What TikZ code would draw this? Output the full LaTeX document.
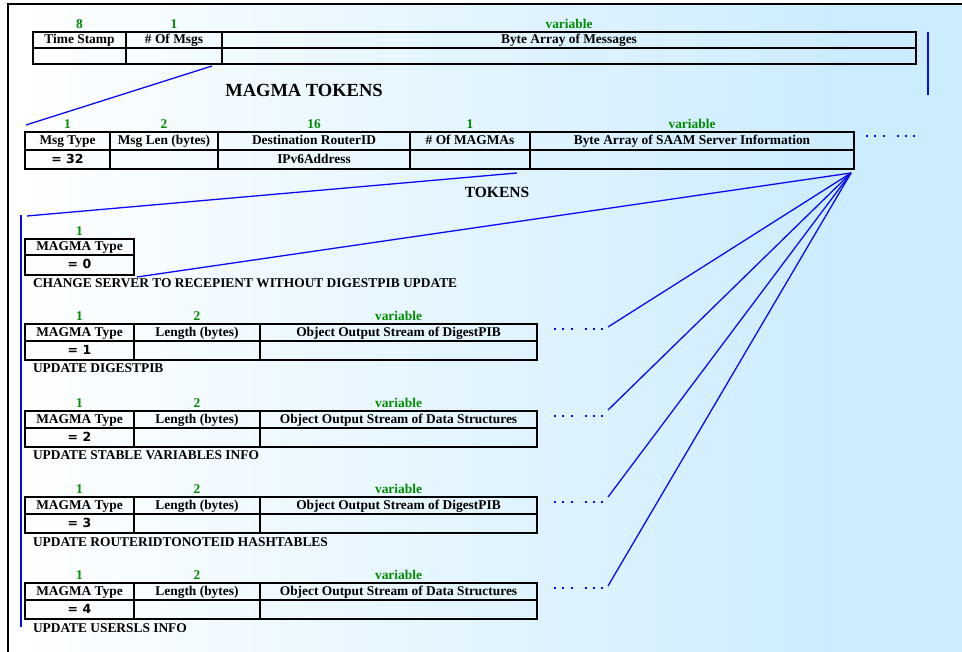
\documentclass[tikz,border=0pt]{standalone}
\usepackage{fontspec}
\setmainfont{Liberation Serif}
\newfontfamily\valfont{DejaVu Sans}
\usetikzlibrary{calc}
\definecolor{bgblue}{RGB}{204,236,255}
\definecolor{hdgreen}{RGB}{0,140,0}
\definecolor{wire}{RGB}{10,10,245}

\begin{document}
\begin{tikzpicture}[x=1pt,y=-1pt,
  every node/.style={inner sep=0pt, outer sep=0pt},
  cell/.style={draw=black, line width=1.2pt, anchor=north west,
    text height=10pt, text depth=2pt, font=\fontsize{13.4}{15}\selectfont\bfseries},
  val/.style={cell, font=\valfont\bfseries\fontsize{12.5}{14}\selectfont},
  size/.style={text=hdgreen, anchor=base, font=\fontsize{13.4}{15}\selectfont\bfseries},
  caption/.style={anchor=base west, font=\fontsize{13.4}{15}\selectfont\bfseries},
  title/.style={anchor=base, font=\fontsize{18.5}{20}\selectfont\bfseries},
  link/.style={draw=wire, line width=1.3pt},
  bar/.style={draw=wire, line width=2.4pt},
  more/.style={draw=wire, line width=2.1pt,
    dash pattern=on 2pt off 6.3pt on 2pt off 6.3pt on 2pt off 11.9pt}
]
\useasboundingbox (0,0) rectangle (962,652);

% page background and frame
\fill[white] (0,0) rectangle (962,652);
\shade[left color=white, right color=bgblue] (8,4) rectangle (850,652);
\fill[bgblue] (850,4) rectangle (962,652);
\draw[line width=2pt] (8,652) -- (8,4) -- (962,4);

% ---- message header ----
\node[cell, minimum width=93, minimum height=16] (ts) at (33,32) {Time Stamp};
\node[cell, minimum width=96, minimum height=16] (nmsg) at (126,32) {\# Of Msgs};
\node[cell, minimum width=694, minimum height=16] (bam) at (222,32) {Byte Array of Messages};
\node[cell, minimum width=93, minimum height=16] (tsv) at (33,48) {};
\node[cell, minimum width=96, minimum height=16] (nmsgv) at (126,48) {};
\node[cell, minimum width=694, minimum height=16] (bamv) at (222,48) {};
\node[size] (sts) at ($(ts.north)+(0,-3.5)$) {8};
\node[size] (snmsg) at ($(nmsg.north)+(0,-3.5)$) {1};
\node[size] (sbam) at ($(bam.north)+(0,-3.5)$) {variable};

\node[title] (magmatokens) at (304,96.5) {MAGMA TOKENS};

% ---- MAGMA token message ----
\node[cell, minimum width=85, minimum height=18] (mtype) at (25,132) {Msg Type};
\node[cell, minimum width=108, minimum height=18] (mlen) at (110,132) {Msg Len (bytes)};
\node[cell, minimum width=192, minimum height=18] (dest) at (218,132) {Destination RouterID};
\node[cell, minimum width=120, minimum height=18] (nmag) at (410,132) {\# Of MAGMAs};
\node[cell, minimum width=324, minimum height=18] (saam) at (530,132) {Byte Array of SAAM Server Information};
\node[val, minimum width=85, minimum height=19] (mtypev) at (25,150) {= 32};
\node[cell, minimum width=108, minimum height=19] (mlenv) at (110,150) {};
\node[cell, minimum width=192, minimum height=19] (ip) at (218,150) {IPv6Address};
\node[cell, minimum width=120, minimum height=19] (nmagv) at (410,150) {};
\node[cell, minimum width=324, minimum height=19] (saamv) at (530,150) {};
\node[size] (smtype) at ($(mtype.north)+(0,-3.5)$) {1};
\node[size] (smlen) at ($(mlen.north)+(0,-3.5)$) {2};
\node[size] (sdest) at ($(dest.north)+(0,-3.5)$) {16};
\node[size] (snmag) at ($(nmag.north)+(0,-3.5)$) {1};
\node[size] (ssaam) at ($(saam.north)+(0,-3.5)$) {variable};
\coordinate (m0) at (866,136);
\coordinate (m1) at (916,136);
\draw[more] (m0) -- (m1);

\node[title, font=\fontsize{15.5}{17}\selectfont\bfseries] (tokens) at (497,198) {TOKENS};

% ---- token 0 ----
\node[cell, minimum width=109, minimum height=16] (t0type) at (25,239) {MAGMA Type};
\node[val, minimum width=109, minimum height=20] (t0val) at (25,255) {= 0};
\node[size] (st0) at ($(t0type.north)+(0,-3.5)$) {1};
\node[caption] (c0) at (33,288) {CHANGE SERVER TO RECEPIENT WITHOUT DIGESTPIB UPDATE};

% ---- tokens 1 to 4 ----
\foreach \i/\t/\obj/\cap/\ey in {1/324/DigestPIB/UPDATE DIGESTPIB/327,
    2/411/Data Structures/UPDATE STABLE VARIABLES INFO/410,
    3/497/DigestPIB/UPDATE ROUTERIDTONOTEID HASHTABLES/497,
    4/583/Data Structures/UPDATE USERSLS INFO/586}{
  \node[cell, minimum width=109, minimum height=17] (t\i type) at (25,\t) {MAGMA Type};
  \node[cell, minimum width=126, minimum height=17] (t\i len) at (134,\t) {Length (bytes)};
  \node[cell, minimum width=277, minimum height=17] (t\i obj) at (260,\t) {Object Output Stream of \obj};
  \node[val, minimum width=109, minimum height=19] (t\i val) at (25,\t+17) {= \i};
  \node[cell, minimum width=126, minimum height=19] (t\i lenv) at (134,\t+17) {};
  \node[cell, minimum width=277, minimum height=19] (t\i objv) at (260,\t+17) {};
  \node[size] (s\i a) at ($(t\i type.north)+(0,-3.5)$) {1};
  \node[size] (s\i b) at ($(t\i len.north)+(0,-3.5)$) {2};
  \node[size] (s\i c) at ($(t\i obj.north)+(0,-3.5)$) {variable};
  \node[caption] (c\i) at (33,\t+49) {\cap};
  \coordinate (d\i) at (554,\t+5);
  \coordinate (e\i) at (603,\t+5);
  \draw[more] (d\i) -- (e\i);
  \coordinate (f\i) at (608,\ey);
}

% ---- expansion connectors ----
\coordinate (a1) at ($(nmsgv.south east)+(-10,2)$);
\coordinate (a2) at ($(mtype.north west)+(1,-7)$);
\draw[link] (a1) -- (a2);
\coordinate (rb0) at (928,32);
\coordinate (rb1) at (928,95);
\draw[bar, line width=2pt] (rb0) -- (rb1);

\coordinate (b1) at ($(nmagv.south east)+(-13,4)$);
\coordinate (b2) at (27,216);
\draw[link] (b1) -- (b2);
\coordinate (lb0) at (21,215);
\coordinate (lb1) at (21,627);
\draw[bar] (lb0) -- (lb1);

\coordinate (hub) at ($(saamv.south east)+(-3,4)$);
\coordinate (g0) at ($(t0val.south east)+(3,2)$);
\draw[link] (hub) -- (g0);
\foreach \i in {1,...,4}{\draw[link] (hub) -- (f\i);}
\end{tikzpicture}
\end{document}
